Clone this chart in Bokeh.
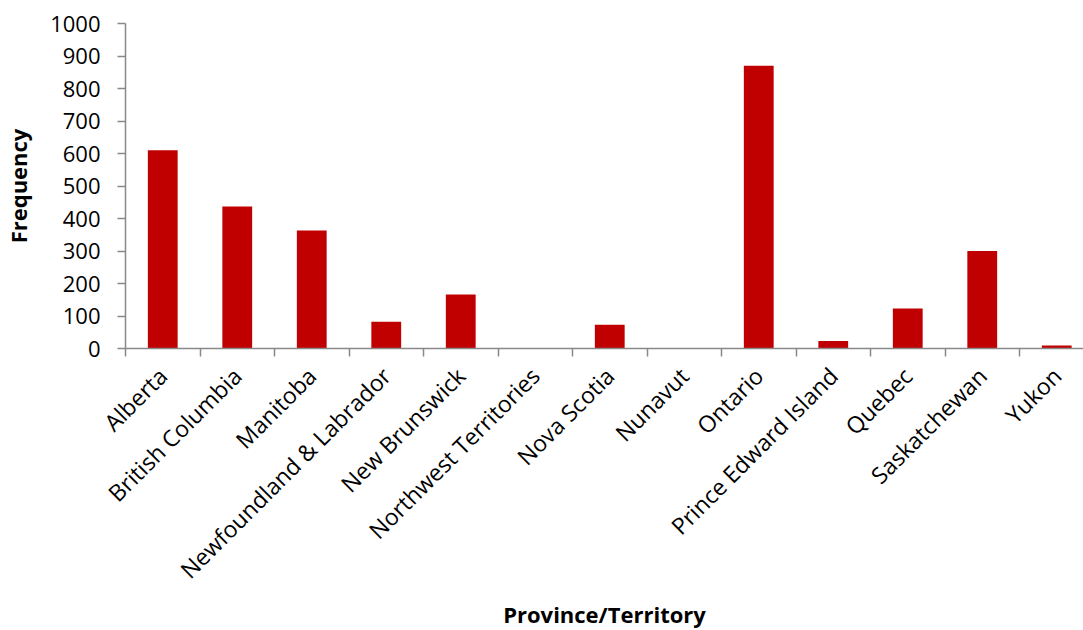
from math import pi
from bokeh.plotting import figure
from bokeh.models import FixedTicker, ColumnDataSource, Range1d
from bokeh.embed import file_html
from bokeh.resources import INLINE

categories = ["Alberta", "British Columbia", "Manitoba", "Newfoundland & Labrador",
              "New Brunswick", "Northwest Territories", "Nova Scotia", "Nunavut",
              "Ontario", "Prince Edward Island", "Quebec", "Saskatchewan", "Yukon"]
frequency = [610, 437, 363, 82, 166, 0, 73, 0, 870, 23, 123, 300, 9]
y_ticks = [0, 100, 200, 300, 400, 500, 600, 700, 800, 900, 1000]

centers = [i + 0.5 for i in range(len(categories))]
boundaries = list(range(len(categories)))

src = ColumnDataSource(dict(x=centers, top=frequency))

p = figure(frame_width=958, frame_height=325, output_backend="svg", toolbar_location=None,
           x_range=Range1d(0, 958 / 74.5), y_range=Range1d(0, 1000),
           min_border_left=122, min_border_right=0, min_border_top=23,
           min_border_bottom=0)
p.outline_line_color = None
p.grid.visible = False

p.vbar(x="x", top="top", width=0.4, bottom=0, source=src,
       fill_color="#C00000", line_color=None)

font = "Open Sans"
for ax in (p.xaxis, p.yaxis):
    ax.axis_line_color = "#898989"
    ax.axis_line_width = 1.5
    ax.major_label_text_font = font
    ax.major_label_text_font_size = "22px"
    ax.major_label_text_color = "black"
    ax.axis_label_text_font = font
    ax.axis_label_text_font_style = "bold"
    ax.axis_label_text_font_size = "22px"
    ax.axis_label_text_color = "black"

p.yaxis.ticker = FixedTicker(ticks=y_ticks)
p.yaxis.major_tick_in = 0
p.yaxis.major_tick_out = 8
p.yaxis.major_tick_line_color = "#898989"
p.yaxis.major_tick_line_width = 1.5
p.yaxis.minor_tick_line_color = None
p.yaxis.major_label_standoff = 17
p.yaxis.axis_label = "Frequency"
p.yaxis.axis_label_standoff = 14

p.xaxis.ticker = FixedTicker(ticks=centers, minor_ticks=boundaries)
p.xaxis.major_tick_line_color = None
p.xaxis.minor_tick_in = 0
p.xaxis.minor_tick_out = 8
p.xaxis.minor_tick_line_color = "#898989"
p.xaxis.minor_tick_line_width = 1.5
p.xaxis.major_label_overrides = {c: n for c, n in zip(centers, categories)}
p.xaxis.major_label_orientation = pi / 4
p.xaxis.major_label_text_font_size = "23px"
p.xaxis.major_label_standoff = 15
p.xaxis.axis_label = "Province/Territory"
p.xaxis.axis_label_standoff = 0

open("out.html", "w").write(file_html(p, INLINE))
